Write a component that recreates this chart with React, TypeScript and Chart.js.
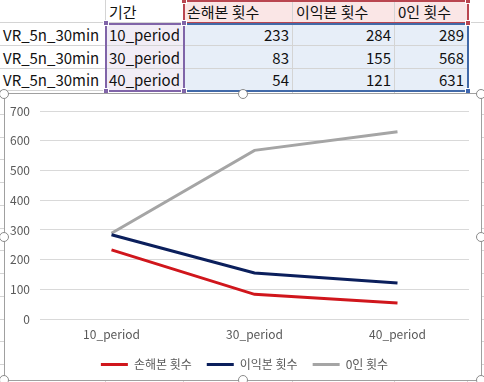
import React, { useEffect, useRef } from 'react';
import { Chart, registerables } from 'chart.js';

Chart.register(...registerables);

// ---- data ----
const rowLabel = 'VR_5n_30min';
const periodHeader = '기간';
const categories = ['10_period', '30_period', '40_period'];
const seriesNames = ['손해본 횟수', '이익본 횟수', '0인 횟수'];
const lossCounts = [233, 83, 54];
const profitCounts = [284, 155, 121];
const zeroCounts = [289, 568, 631];
const yMin = 0;
const yMax = 700;
const yStep = 100;

const seriesValues = [lossCounts, profitCounts, zeroCounts];
const seriesColors = ['#D0161C', '#0B1F5C', '#A5A5A5'];

const FONT = "'Noto Sans CJK KR', 'Noto Sans', sans-serif";
const colX = [0, 106, 184, 293, 395, 468, 484];
const rowY = [0, 23, 46, 69, 91];

function Cell(props: { x0: number; x1: number; y0: number; y1: number; text: string; align: 'left' | 'right'; bg?: string }) {
  const { x0, x1, y0, y1, text, align, bg } = props;
  return (
    <div
      style={{
        position: 'absolute',
        left: x0,
        top: y0,
        width: x1 - x0,
        height: y1 - y0,
        background: bg || 'transparent',
        boxSizing: 'border-box',
        borderRight: '1px solid #D4D4D4',
        borderBottom: '1px solid #D4D4D4',
        fontFamily: FONT,
        fontSize: 15,
        lineHeight: `${y1 - y0}px`,
        color: '#111',
        textAlign: align,
        paddingLeft: align === 'left' ? 3 : 0,
        paddingRight: align === 'right' ? 3 : 0,
        whiteSpace: 'nowrap',
        overflow: 'hidden',
      }}
    >
      {text}
    </div>
  );
}

function Handle(props: { x: number; y: number; color: string }) {
  return (
    <div
      style={{
        position: 'absolute',
        left: props.x - 3,
        top: props.y - 3,
        width: 6,
        height: 6,
        background: props.color,
        border: '1px solid #fff',
        boxSizing: 'border-box',
      }}
    />
  );
}

function Circle(props: { x: number; y: number }) {
  return (
    <div
      style={{
        position: 'absolute',
        left: props.x - 5,
        top: props.y - 5,
        width: 10,
        height: 10,
        borderRadius: '50%',
        background: '#fff',
        border: '1px solid #8A8A8A',
        boxSizing: 'border-box',
      }}
    />
  );
}

const legendShift = {
  id: 'legendShift',
  afterLayout(chart: any) {
    const l = chart.legend;
    if (l) {
      l.left += 7.5;
      l.right += 7.5;
    }
  },
};

export default function App() {
  const ref = useRef<HTMLCanvasElement>(null);

  useEffect(() => {
    const chart = new Chart(ref.current!, {
      type: 'line',
      data: {
        labels: categories,
        datasets: seriesNames.map((name, i) => ({
          label: name,
          data: seriesValues[i],
          borderColor: seriesColors[i],
          backgroundColor: seriesColors[i],
          borderWidth: 3,
          pointRadius: 0,
          tension: 0,
          fill: false,
        })),
      },
      plugins: [legendShift],
      options: {
        responsive: false,
        animation: false,
        layout: { padding: { left: 0, right: 12, top: 14, bottom: 1.5 } },
        plugins: {
          tooltip: { enabled: false },
          legend: {
            position: 'bottom',
            labels: {
              boxWidth: 27,
              boxHeight: 3,
              padding: 15,
              color: '#595959',
              font: { family: FONT, size: 12 },
              generateLabels(c: any) {
                const items = (Chart.defaults.plugins.legend.labels as any).generateLabels(c);
                items.forEach((it: any) => {
                  it.fillStyle = it.strokeStyle;
                  it.lineWidth = 0;
                });
                return items;
              },
            },
          },
        },
        scales: {
          x: {
            offset: true,
            grid: { display: false, drawTicks: false },
            border: { display: false },
            ticks: { color: '#595959', font: { family: FONT, size: 12 }, padding: 8, maxRotation: 0 },
            afterFit(s: any) {
              s.height = 24.5;
            },
          },
          y: {
            min: yMin,
            max: yMax,
            ticks: { stepSize: yStep, padding: 10, color: '#595959', font: { family: FONT, size: 12 } },
            grid: { color: '#D9D9D9', drawTicks: false },
            border: { display: false },
            afterFit(s: any) {
              s.width = 35;
            },
          },
        },
      } as any,
    });
    return () => chart.destroy();
  }, []);

  const hLines: number[] = [];
  for (let y = 91 + 22.75; y < 382; y += 22.75) hLines.push(Math.round(y));

  const rows = categories.map((cat, r) => [rowLabel, cat, String(lossCounts[r]), String(profitCounts[r]), String(zeroCounts[r])]);

  return (
    <div style={{ position: 'absolute', left: 0, top: 0, width: 484, height: 382, background: '#fff', overflow: 'hidden' }}>
      {hLines.map((y) => (
        <div key={'h' + y} style={{ position: 'absolute', left: 0, top: y, width: 484, height: 1, background: '#D4D4D4' }} />
      ))}
      {colX.slice(1, 6).map((x) => (
        <div key={'v' + x} style={{ position: 'absolute', left: x - 1, top: 0, width: 1, height: 382, background: '#D4D4D4' }} />
      ))}
      <Cell x0={colX[0]} x1={colX[1]} y0={rowY[0]} y1={rowY[1]} text="" align="left" />
      <Cell x0={colX[1]} x1={colX[2]} y0={rowY[0]} y1={rowY[1]} text={periodHeader} align="left" />
      {seriesNames.map((n, i) => (
        <Cell key={n} x0={colX[2 + i]} x1={colX[3 + i]} y0={rowY[0]} y1={rowY[1]} text={n} align="left" bg="#FAE6E6" />
      ))}
      <Cell x0={colX[5]} x1={colX[6] + 10} y0={rowY[0]} y1={rowY[1]} text="" align="left" />
      {rows.map((row, r) =>
        row.map((t, c) => (
          <Cell
            key={r + '-' + c}
            x0={colX[c]}
            x1={colX[c + 1]}
            y0={rowY[r + 1]}
            y1={rowY[r + 2]}
            text={t}
            align={c >= 2 ? 'right' : 'left'}
            bg={c === 1 ? '#F1EDF6' : c >= 2 ? '#E7EEF8' : undefined}
          />
        ))
      )}
      <div style={{ position: 'absolute', left: 183, top: 0, width: 286, height: 24, border: '2px solid #B94650', boxSizing: 'border-box' }} />
      <div style={{ position: 'absolute', left: 183, top: 23, width: 286, height: 69, border: '2px solid #4169A8', boxSizing: 'border-box' }} />
      <div style={{ position: 'absolute', left: 105, top: 23, width: 80, height: 69, border: '2px solid #8064A8', boxSizing: 'border-box' }} />
      <Handle x={184} y={1} color="#B94650" />
      <Handle x={468} y={1} color="#B94650" />
      <Handle x={468} y={23} color="#B94650" />
      <Handle x={106} y={23} color="#8064A8" />
      <Handle x={184} y={23} color="#8064A8" />
      <Handle x={106} y={91} color="#8064A8" />
      <Handle x={184} y={91} color="#8064A8" />
      <Handle x={468} y={91} color="#3D66B0" />
      <div style={{ position: 'absolute', left: 4, top: 93, width: 478, height: 288, border: '1px solid #A0A0A0', background: '#fff', boxSizing: 'border-box' }} />
      <canvas ref={ref} width={476} height={288} style={{ position: 'absolute', left: 5, top: 94, width: 476, height: 288 }} />
      <Circle x={4} y={94} />
      <Circle x={243} y={94} />
      <Circle x={481} y={94} />
      <Circle x={4} y={237} />
      <Circle x={481} y={237} />
      <Circle x={4} y={380} />
      <Circle x={243} y={380} />
      <Circle x={481} y={380} />
    </div>
  );
}
